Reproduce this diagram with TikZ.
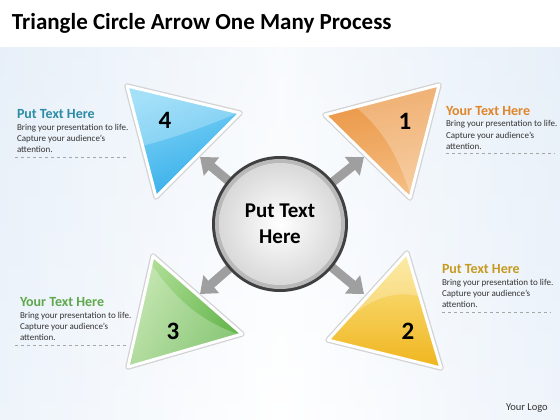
\documentclass[tikz,border=0pt]{standalone}
\usepackage{fontspec}
\setmainfont{Carlito}
\usetikzlibrary{arrows.meta}

\definecolor{bgblue}{HTML}{E3EDF8}
\definecolor{tealhead}{HTML}{2C8CA6}
\definecolor{orangehead}{HTML}{E0852A}
\definecolor{greenhead}{HTML}{5FA84C}
\definecolor{goldhead}{HTML}{C79A1F}
\definecolor{bluelite}{HTML}{86D7F7}
\definecolor{bluedark}{HTML}{33ACE9}
\definecolor{orangelite}{HTML}{F5BE84}
\definecolor{orangedark}{HTML}{EA9441}
\definecolor{greenlite}{HTML}{B2DF98}
\definecolor{greendark}{HTML}{62B44A}
\definecolor{yellowlite}{HTML}{FCE58A}
\definecolor{yellowdark}{HTML}{EFB51E}

\begin{document}
\begin{tikzpicture}
[x=1pt, y=-1pt,
every node/.style={inner sep=0pt, outer sep=0pt},
title/.style={font=\bfseries\fontsize{23}{26}\selectfont, anchor=base west},
head/.style={font=\bfseries\fontsize{14}{16}\selectfont, anchor=base west},
body/.style={font=\fontsize{9}{11}\selectfont, anchor=base west, align=left, text=black!80},
num/.style={font=\bfseries\fontsize{25}{28}\selectfont},
spoke/.style={line width=9pt, draw=gray!75, -{Triangle[width=23pt,length=15pt]}},
rule/.style={dashed, draw=gray!70, line width=0.5pt},
frame/.style={line width=5.5pt, line join=round, draw=gray!35},
rim/.style={line width=3pt, line join=round, draw=white},
gloss/.style={fill=white, opacity=0.25}]

\useasboundingbox (0,0) rectangle (560,420);
\fill[white] (0,0) rectangle (560,420);
\shade[top color=bgblue!60, bottom color=white] (0,48) rectangle (560,420);
\shade[left color=bgblue, right color=bgblue, middle color=white, opacity=0.6] (0,48) rectangle (560,420);

\node[title] (ttl) at (12,30) {Triangle Circle Arrow One Many Process};

% spokes out of the hub
\coordinate (hc) at (280,224);
\coordinate (t1) at (364,157);
\coordinate (t2) at (364,294);
\coordinate (t3) at (200,294);
\coordinate (t4) at (200,157);
\foreach \t in {t1,t2,t3,t4}
  \draw[spoke] (hc) -- (\t);

% the hub
\node[circle, minimum size=136pt, fill=black!75] (hub) at (hc) {};
\node[circle, minimum size=130pt, fill=gray!55] (hubring) at (hc) {};
\node[circle, minimum size=122pt, inner color=white, outer color=gray!30,
      font=\bfseries\fontsize{21}{26}\selectfont, align=center] (hubtxt) at (hc) {Put Text\\Here};

% triangles
\path[frame] (127,86) -- (240,113) -- (156,197) -- cycle;
\shade[top color=bluelite, bottom color=bluedark, shading angle=20] (127,86) -- (240,113) -- (156,197) -- cycle;
\begin{scope}
  \clip (127,86) -- (240,113) -- (156,197) -- cycle;
  \fill[gloss] (125,150) .. controls (170,140) and (210,125) .. (245,110) -- (120,80) -- cycle;
\end{scope}
\path[rim] (127,86) -- (240,113) -- (156,197) -- cycle;

\path[frame] (439,85) -- (325,115) -- (410,198) -- cycle;
\shade[left color=orangedark, right color=orangelite, shading angle=10] (439,85) -- (325,115) -- (410,198) -- cycle;
\begin{scope}
  \clip (439,85) -- (325,115) -- (410,198) -- cycle;
  \fill[gloss] (352,104) .. controls (385,130) and (400,160) .. (412,200) -- (445,200) -- (445,80) -- cycle;
\end{scope}
\path[rim] (439,85) -- (325,115) -- (410,198) -- cycle;

\path[frame] (407,253) -- (328,340) -- (441,368) -- cycle;
\shade[top color=yellowlite, bottom color=yellowdark] (407,253) -- (328,340) -- (441,368) -- cycle;
\begin{scope}
  \clip (407,253) -- (328,340) -- (441,368) -- cycle;
  \fill[gloss] (330,340) .. controls (360,300) and (395,285) .. (430,300) -- (430,250) -- (330,250) -- cycle;
\end{scope}
\path[rim] (407,253) -- (328,340) -- (441,368) -- cycle;

\path[frame] (153,256) -- (242,334) -- (128,367) -- cycle;
\shade[left color=greenlite, right color=greendark, shading angle=60] (153,256) -- (242,334) -- (128,367) -- cycle;
\begin{scope}
  \clip (153,256) -- (242,334) -- (128,367) -- cycle;
  \fill[gloss] (150,262) .. controls (175,300) and (205,325) .. (245,336) -- (130,370) -- cycle;
\end{scope}
\path[rim] (153,256) -- (242,334) -- (128,367) -- cycle;

\node[num] (n4) at (165,120) {4};
\node[num] (n1) at (405,121) {1};
\node[num] (n2) at (408,331) {2};
\node[num] (n3) at (173,331) {3};

% text blocks (base = last line)
\node[head, text=tealhead] (h4) at (17,118) {Put Text Here};
\node[body] (b4) at (17,152) {Bring your presentation to life.\\Capture your audience’s\\attention.};
\draw[rule] (15,157) -- (126,157);

\node[head, text=orangehead] (h1) at (446,115) {Your Text Here};
\node[body] (b1) at (446,149) {Bring your presentation to life.\\Capture your audience’s\\attention.};
\draw[rule] (446,153) -- (555,153);

\node[head, text=greenhead] (h3) at (20,306) {Your Text Here};
\node[body] (b3) at (20,340) {Bring your presentation to life.\\Capture your audience’s\\attention.};
\draw[rule] (15,345) -- (126,345);

\node[head, text=goldhead] (h2) at (442,273) {Put Text Here};
\node[body] (b2) at (442,307) {Bring your presentation to life.\\Capture your audience’s\\attention.};
\draw[rule] (442,312) -- (551,312);

\node[font=\fontsize{10.5}{12}\selectfont, anchor=base west, text=black!80] (logo) at (506,410) {Your Logo};
\end{tikzpicture}
\end{document}
